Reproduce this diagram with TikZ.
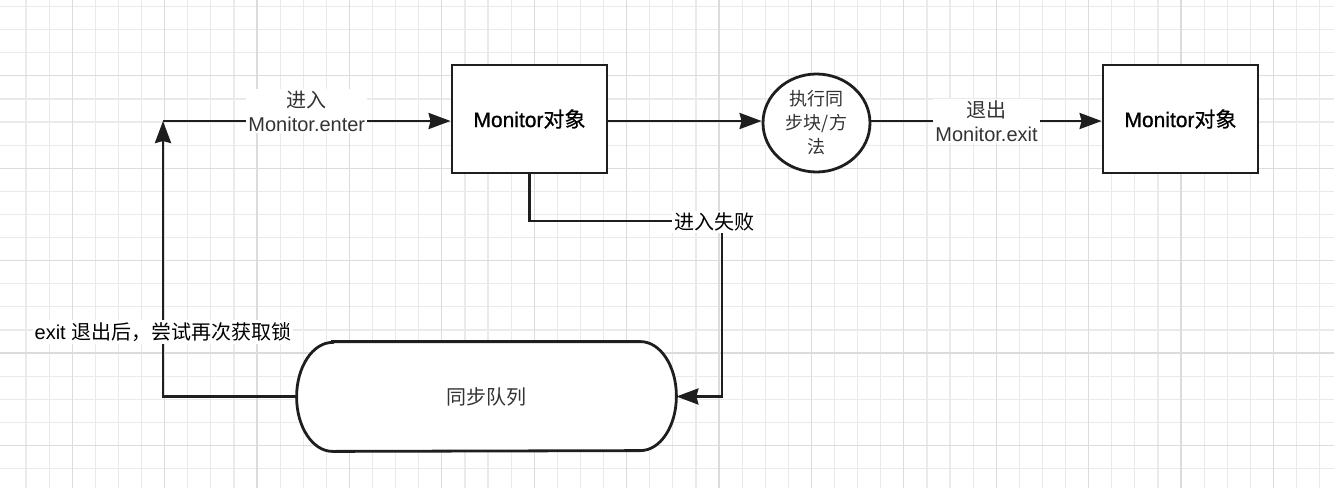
\documentclass[tikz,border=0pt]{standalone}
\usepackage{fontspec}
\setmainfont{Liberation Sans}
\newfontfamily\cjk{Noto Sans CJK SC}
\newfontfamily\boxlat[FakeBold=0.8]{Liberation Sans}
\newfontfamily\boxcjk[FakeBold=0.8]{Noto Sans CJK SC}
\usetikzlibrary{arrows.meta,shapes.geometric}
\definecolor{linec}{HTML}{1E1E1E}
\definecolor{gridminor}{HTML}{EAEAEA}
\definecolor{gridmajor}{HTML}{DCDCDC}
\definecolor{txt}{HTML}{333333}
\begin{document}
\begin{tikzpicture}[x=0.5pt,y=-0.5pt,
  edge/.style={draw=linec,line width=1.4pt},
  arr/.style={-{Stealth[length=11pt,width=8pt,inset=1pt]}},
  box/.style={draw=linec,line width=1.4pt,fill=white,minimum width=77.5pt,
    minimum height=54pt,inner sep=0pt,font=\fontsize{10.5}{12}\selectfont\boxlat,text=black},
  circ/.style={ellipse,draw=linec,line width=1.4pt,fill=white,minimum width=53.5pt,
    minimum height=49pt,inner sep=0pt,align=center,font=\fontsize{9}{12}\selectfont\cjk,text=txt},
  lbl/.style={fill=white,inner sep=1pt,align=center,font=\fontsize{10}{12}\selectfont,text=txt},
  blbl/.style={fill=white,inner sep=1pt,font=\fontsize{10}{12}\selectfont,text=black}]

% canvas and grid
\fill[white] (0,0) rectangle (1334,488);
\useasboundingbox (0,0) rectangle (1334,488);
\foreach \i in {0,...,56} \draw[gridminor,line width=0.6pt] ({26+23.1*\i},0) -- ({26+23.1*\i},488);
\foreach \j in {0,...,21} \draw[gridminor,line width=0.6pt] (0,{6.5+23.1*\j}) -- (1334,{6.5+23.1*\j});
\foreach \i in {2,6,...,54} \draw[gridmajor,line width=0.6pt] ({26+23.1*\i},0) -- ({26+23.1*\i},488);
\foreach \j in {3,7,...,19} \draw[gridmajor,line width=0.6pt] (0,{6.5+23.1*\j}) -- (1334,{6.5+23.1*\j});

% nodes
\node[box] (m1) at (529.5,119) {Monitor{\boxcjk 对象}};
\node[circ] (ex) at (816.5,123) {执行同\\步块/方\\法};
\node[box] (m2) at (1180.5,119) {Monitor{\boxcjk 对象}};
\node[minimum width=189.5pt,minimum height=54.5pt,inner sep=0pt] (q) at (486.5,396.5) {};
\draw[edge,fill=white] ([xshift=18pt]q.north west) -- ([xshift=-18pt]q.north east)
  arc[start angle=90,end angle=-90,x radius=18pt,y radius=27.25pt]
  -- ([xshift=18pt]q.south west)
  arc[start angle=270,end angle=90,x radius=18pt,y radius=27.25pt] -- cycle;
\node[font=\fontsize{10}{12}\selectfont\cjk,text=txt] at (q.center) {同步队列};

\coordinate (bend) at (163,121);
\coordinate (fail) at (722,221);

% connectors
\draw[edge,arr] (m1.east |- 0,121) -- (ex.west |- 0,121);
\draw[edge,arr] (ex.east |- 0,121) -- (m2.west |- 0,121)
  node[lbl,midway] {{\cjk 退出}\\Monitor.exit};
\draw[edge,arr] (m1.south) |- (fail) |- (q.east);
\node[blbl] at (714,222) {\cjk 进入失败};
\draw[edge,arr] (q.west) -| (bend);
\draw[edge,arr] (bend) -- (m1.west |- bend)
  node[lbl,midway,yshift=5pt] {{\cjk 进入}\\Monitor.enter};
\node[blbl] at (163,332) {exit {\cjk 退出后，尝试再次获取锁}};
\end{tikzpicture}
\end{document}
